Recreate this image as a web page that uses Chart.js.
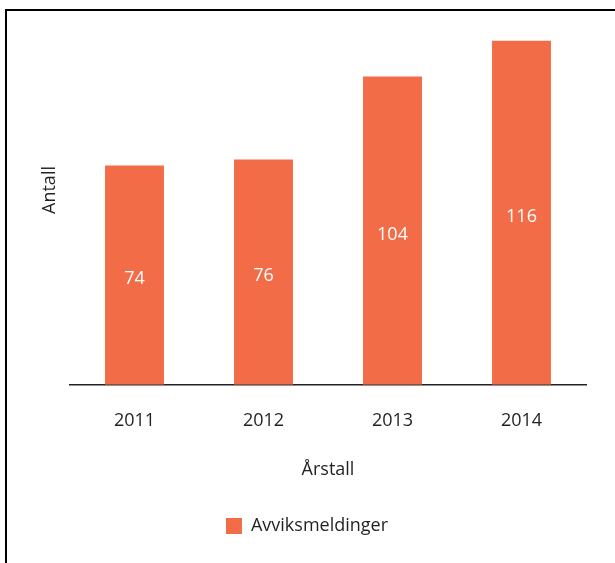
<!DOCTYPE html>
<html>
<head>
<meta charset="utf-8">
<script src="https://cdn.jsdelivr.net/npm/chart.js@4"></script>
<style>
  html, body { margin: 0; padding: 0; background: #fff; overflow: hidden; }
  #wrap { position: relative; width: 615px; height: 563px; }
  #frame { position: absolute; left: 5px; top: 9px; width: 640px; height: 620px; border: 2px solid #000; pointer-events: none; }
  canvas { position: absolute; left: 0; top: 0; }
</style>
</head>
<body>
<div id="wrap">
  <canvas id="chart" width="615" height="563"></canvas>
  <div id="frame"></div>
</div>
<script>
const years = ['2011', '2012', '2013', '2014'];
const avvik = [74, 76, 104, 116];
const seriesName = 'Avviksmeldinger';
const xTitle = 'Årstall';
const yTitle = 'Antall';

const barColor = 'rgb(242, 108, 72)';
const textColor = '#231f20';
const fontFamily = '"Open Sans", "DejaVu Sans", sans-serif';

// verdier midt i søylene + y-aksetittel
const extras = {
    id: 'extras',
    afterLayout(chart) {
        // forklaringen står litt til venstre for midten i originalen
        if (chart.legend) {
            chart.legend.left -= 21;
            chart.legend.right -= 21;
        }
    },
    afterDatasetsDraw(chart) {
        const ctx = chart.ctx;
        const meta = chart.getDatasetMeta(0);
        ctx.save();
        ctx.fillStyle = '#fff';
        ctx.font = '18px ' + fontFamily;
        ctx.textAlign = 'center';
        ctx.textBaseline = 'middle';
        meta.data.forEach((bar, i) => {
            const mid = (bar.y + bar.base) / 2;
            ctx.fillText(String(avvik[i]), bar.x, mid + 4);
        });
        ctx.restore();

        ctx.save();
        ctx.fillStyle = textColor;
        ctx.font = '18px ' + fontFamily;
        ctx.textAlign = 'center';
        ctx.textBaseline = 'middle';
        ctx.translate(chart.chartArea.left - 20, chart.chartArea.top + 161);
        ctx.rotate(-Math.PI / 2);
        ctx.fillText(yTitle, 0, 0);
        ctx.restore();
    }
};

new Chart(document.getElementById('chart').getContext('2d'), {
    type: 'bar',
    data: {
        labels: years,
        datasets: [{
            label: seriesName,
            data: avvik,
            backgroundColor: barColor,
            borderWidth: 0,
            categoryPercentage: 1,
            barPercentage: 0.457
        }]
    },
    options: {
        responsive: false,
        animation: false,
        layout: {
            padding: { left: 70, right: 29, top: 29, bottom: 18 }
        },
        scales: {
            x: {
                grid: { display: false },
                border: { display: true, color: '#222', width: 1.5 },
                ticks: {
                    color: textColor,
                    font: { family: fontFamily, size: 18 },
                    padding: 17
                },
                title: {
                    display: true,
                    text: xTitle,
                    color: textColor,
                    font: { family: fontFamily, size: 18 },
                    padding: { top: 11, bottom: 16 }
                }
            },
            y: {
                display: false,
                min: 0,
                max: 120
            }
        },
        plugins: {
            legend: {
                position: 'bottom',
                labels: {
                    color: textColor,
                    font: { family: fontFamily, size: 18 },
                    boxWidth: 16,
                    boxHeight: 16,
                    padding: 20
                }
            },
            tooltip: { enabled: false }
        }
    },
    plugins: [extras]
});
</script>
</body>
</html>
